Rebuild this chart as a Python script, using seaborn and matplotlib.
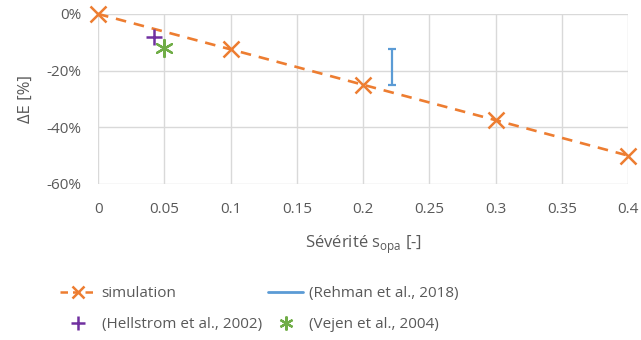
import matplotlib
matplotlib.use("Agg")
import matplotlib.pyplot as plt
import matplotlib.ticker as mticker
from matplotlib.lines import Line2D
import seaborn as sns
import pandas as pd

# simulation
sim_x = [0.0, 0.1, 0.2, 0.3, 0.4]
sim_y = [0.0, -12.5, -25.0, -37.5, -50.0]
# Hellstrom et al., 2002
hell_x = [0.042]
hell_y = [-8.3]
# Vejen et al., 2004
vejen_x = [0.05]
vejen_y = [-12.0]
# Rehman et al., 2018 (range)
rehman_x = 0.222
rehman_lo = -25.0
rehman_hi = -12.3

x_ticks = [0, 0.05, 0.1, 0.15, 0.2, 0.25, 0.3, 0.35, 0.4]
x_tick_labels = ["0", "0.05", "0.1", "0.15", "0.2", "0.25", "0.3", "0.35", "0.4"]
y_ticks = [0, -20, -40, -60]

sns.set_style("white")
plt.rcParams['font.family'] = ['Open Sans', 'DejaVu Sans']

fig = plt.figure(figsize=(6.41, 3.40), dpi=100)
ax = fig.add_axes([0.153, 0.459, 0.827, 0.5])
grey = "#595959"
orange = "#ED7D31"

sim = pd.DataFrame({"x": sim_x, "y": sim_y})
sns.lineplot(data=sim, x="x", y="y", ax=ax, color=orange, linewidth=1.9,
             label="simulation", clip_on=False, zorder=5)
sim_line = ax.lines[-1]
sim_line.set_dashes([4, 3])
sim_line.set_marker("x")
sim_line.set_markersize(11)
sim_line.set_markeredgewidth(1.8)
sim_line.set_markeredgecolor(orange)
sim_line.set_markerfacecolor(orange)

sns.scatterplot(x=hell_x, y=hell_y, ax=ax, marker="+", s=140, color="#7030A0",
                linewidth=1.8, zorder=6)
ax.errorbar([rehman_x], [(rehman_lo + rehman_hi) / 2], yerr=[(rehman_hi - rehman_lo) / 2],
            fmt="none", ecolor="#5B9BD5", elinewidth=1.6, capsize=3, capthick=1.6, zorder=4)
sns.scatterplot(x=vejen_x, y=vejen_y, ax=ax, marker=(6, 2, 0), s=150, color="#70AD47",
                linewidth=1.6, edgecolor="#70AD47", zorder=6)
if ax.get_legend():
    ax.get_legend().remove()

ax.set_xlim(0, 0.4)
ax.set_ylim(-60, 0)
ax.set_xticks(x_ticks)
ax.set_xticklabels(x_tick_labels)
ax.set_yticks(y_ticks)
ax.yaxis.set_major_formatter(mticker.FuncFormatter(lambda v, p: f"{int(v)}%"))
ax.grid(True, color="#D9D9D9", linewidth=1)
for s in ax.spines.values():
    s.set_visible(False)
ax.tick_params(colors=grey, labelsize=11, length=0)
ax.tick_params(axis="x", pad=13)
ax.tick_params(axis="y", pad=12)
ax.set_xlabel("Sévérité s$_{\\mathregular{opa}}$ [-]", color=grey, fontsize=12, labelpad=12)
ax.set_ylabel("ΔE [%]", color=grey, fontsize=12, labelpad=9)

handles = [
    Line2D([], [], color=orange, linewidth=1.8, dashes=[3, 2], marker="x",
           markersize=9, markeredgewidth=1.8),
    Line2D([], [], linestyle="none", color="#7030A0", marker="+", markersize=10,
           markeredgewidth=1.8),
    Line2D([], [], color="#5B9BD5", linewidth=2),
    Line2D([], [], linestyle="none", color="#70AD47", marker=(6, 2, 0), markersize=10,
           markeredgewidth=1.6),
]
labels = ["simulation", "(Hellstrom et al., 2002)", "(Rehman et al., 2018)", "(Vejen et al., 2004)"]
leg = fig.legend(handles, labels, ncol=2, loc="center",
                 bbox_to_anchor=(0.405, 0.09), frameon=False, fontsize=11,
                 columnspacing=0.4, handlelength=2.3, handletextpad=0.4, labelspacing=1.05)
for t in leg.get_texts():
    t.set_color(grey)

fig.savefig("out.png", dpi=100)
